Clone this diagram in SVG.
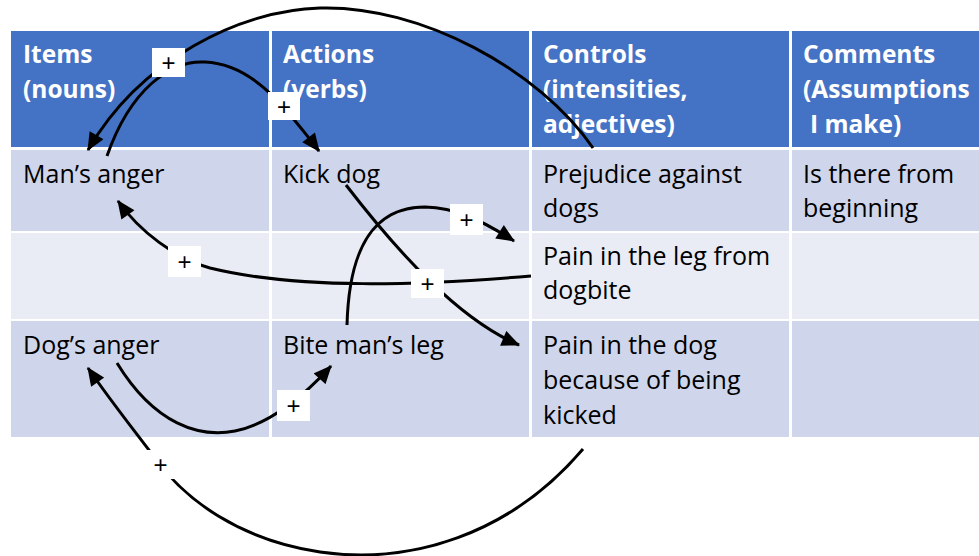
<svg xmlns="http://www.w3.org/2000/svg" width="979" height="556" viewBox="0 0 979 556">
<defs>
<style>
.hd{fill:#4472C4}
.r1{fill:#CFD5EA}
.r2{fill:#E9EBF5}
.ht{font-family:"Open Sans","Liberation Sans",sans-serif;font-size:24.5px;font-weight:bold;fill:#FFFFFF}
.bt{font-family:"Open Sans","Liberation Sans",sans-serif;font-size:25px;fill:#000000}
.cn{fill:none;stroke:#000;stroke-width:3;marker-end:url(#ah)}
.lb{fill:#FFFFFF}
.pl{font-family:"Liberation Sans",sans-serif;font-size:24px;fill:#000;text-anchor:middle}
</style>
<marker id="ah" markerUnits="userSpaceOnUse" markerWidth="20" markerHeight="16" refX="15" refY="7" orient="auto" viewBox="0 0 16 14">
<path d="M0,0 L16,7 L0,14 Z" fill="#000"/>
</marker>
</defs>
<rect x="0" y="0" width="979" height="556" fill="#FFFFFF"/>
<g id="table">
<rect class="hd" x="11" y="31" width="258" height="116"/>
<rect class="hd" x="272" y="31" width="257" height="116"/>
<rect class="hd" x="532" y="31" width="257" height="116"/>
<rect class="hd" x="792" y="31" width="187" height="116"/>
<rect class="r1" x="11" y="150" width="258" height="81"/>
<rect class="r1" x="272" y="150" width="257" height="81"/>
<rect class="r1" x="532" y="150" width="257" height="81"/>
<rect class="r1" x="792" y="150" width="187" height="81"/>
<rect class="r2" x="11" y="233" width="258" height="86"/>
<rect class="r2" x="272" y="233" width="257" height="86"/>
<rect class="r2" x="532" y="233" width="257" height="86"/>
<rect class="r2" x="792" y="233" width="187" height="86"/>
<rect class="r1" x="11" y="321" width="258" height="116"/>
<rect class="r1" x="272" y="321" width="257" height="116"/>
<rect class="r1" x="532" y="321" width="257" height="116"/>
<rect class="r1" x="792" y="321" width="187" height="116"/>
</g>
<g id="header-items"><text class="ht" x="23" y="63">Items</text><text class="ht" x="23" y="98">(nouns)</text></g>
<g id="header-actions"><text class="ht" x="283" y="63">Actions</text><text class="ht" x="283" y="98">(verbs)</text></g>
<g id="header-controls"><text class="ht" x="543" y="63">Controls</text><text class="ht" x="543" y="98">(intensities,</text><text class="ht" x="543" y="133">adjectives)</text></g>
<g id="header-comments"><text class="ht" x="803" y="63">Comments</text><text class="ht" x="803" y="98">(Assumptions</text><text class="ht" x="810" y="133">I make)</text></g>
<g id="mans-anger"><text class="bt" x="23" y="183">Man’s anger</text></g>
<g id="kick-dog"><text class="bt" x="283" y="183">Kick dog</text></g>
<g id="prejudice"><text class="bt" x="543" y="183">Prejudice against</text><text class="bt" x="543" y="217">dogs</text></g>
<g id="comment1"><text class="bt" x="803" y="183">Is there from</text><text class="bt" x="803" y="217">beginning</text></g>
<g id="pain-leg"><text class="bt" x="543" y="265">Pain in the leg from</text><text class="bt" x="543" y="299">dogbite</text></g>
<g id="dogs-anger"><text class="bt" x="23" y="354">Dog’s anger</text></g>
<g id="bite-leg"><text class="bt" x="283" y="354">Bite man’s leg</text></g>
<g id="pain-dog"><text class="bt" x="543" y="354">Pain in the dog</text><text class="bt" x="543" y="389">because of being</text><text class="bt" x="543" y="424">kicked</text></g>
<g id="connectors">
<path class="cn" d="M593,148 C540,70 420,5 320,8 C240,10 140,60 88,150"/>
<path class="cn" d="M107,156 C130,90 170,60 205,62 C250,64 280,100 319,151"/>
<path class="cn" d="M346,185 C400,255 460,320 519,345"/>
<path class="cn" d="M347,325 C349,250 372,207 425,207 C455,208 478,218 514,241"/>
<path class="cn" d="M531,276 C420,285 300,290 210,268 C175,258 140,232 118,201"/>
<path class="cn" d="M117,363 C155,425 200,438 235,431 C270,424 305,395 331,366"/>
<path class="cn" d="M583,449 C510,535 410,565 320,552 C240,540 185,500 155,458 C130,425 110,400 88,368"/>
<rect class="lb" x="152" y="48" width="33" height="29"/><text class="pl" x="168.5" y="71">+</text>
<rect class="lb" x="268" y="92" width="32" height="28"/><text class="pl" x="284" y="115">+</text>
<rect class="lb" x="411" y="269" width="33" height="29"/><text class="pl" x="427.5" y="292">+</text>
<rect class="lb" x="450" y="204" width="33" height="31"/><text class="pl" x="466.5" y="228">+</text>
<rect class="lb" x="168" y="246" width="33" height="31"/><text class="pl" x="184.5" y="270">+</text>
<rect class="lb" x="277" y="390" width="33" height="31"/><text class="pl" x="293.5" y="414">+</text>
<rect class="lb" x="145" y="450" width="31" height="29"/><text class="pl" x="160.5" y="473">+</text>
</g>
</svg>
